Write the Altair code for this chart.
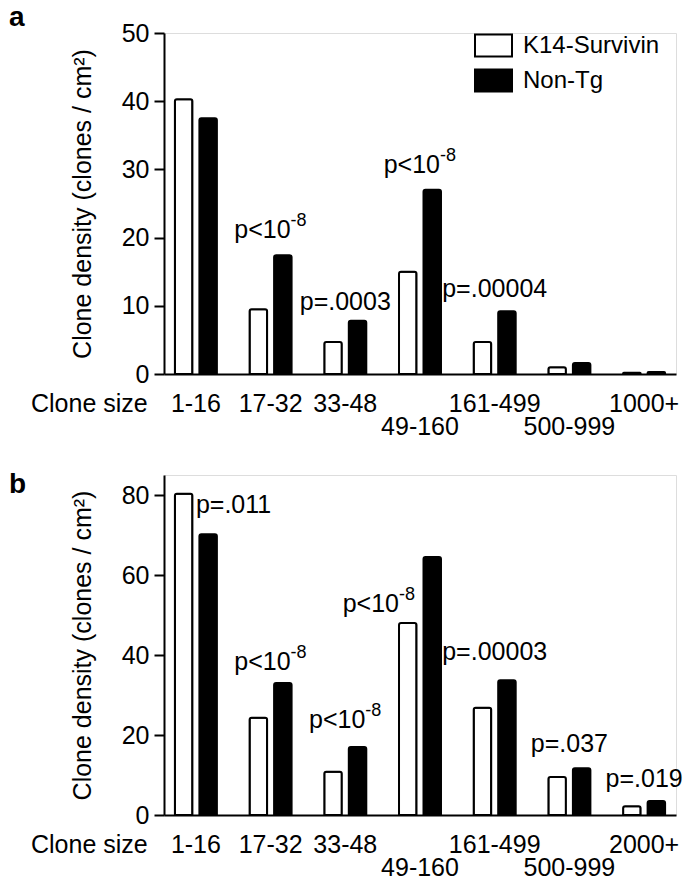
import altair as alt
import pandas as pd

FONT = "Liberation Sans"
SERIES = ["K14-Survivin", "Non-Tg"]
Y_TITLE = "Clone density (clones / cm²)"

# ---- panel a data ----
cats_a = ["1-16", "17-32", "33-48", "49-160", "161-499", "500-999", "1000+"]
k14_a = [40.3, 9.5, 4.7, 15.0, 4.7, 1.0, 0.2]
nontg_a = [37.5, 17.4, 7.8, 27.0, 9.2, 1.6, 0.3]
lower_row_a = ["49-160", "500-999"]
ticks_a = [0, 10, 20, 30, 40, 50]
ymax_a = 50
ann_cat_a = ["17-32", "33-48", "49-160", "161-499"]
ann_text_a = ["p<10", "p=.0003", "p<10", "p=.00004"]
ann_sup_a = ["-8", "", "-8", ""]
ann_y_a = [20.0, 9.4, 29.5, 11.3]

# ---- panel b data ----
cats_b = ["1-16", "17-32", "33-48", "49-160", "161-499", "500-999", "2000+"]
k14_b = [80.3, 24.3, 10.8, 48.0, 26.8, 9.5, 2.2]
nontg_b = [70.2, 33.0, 17.0, 64.5, 33.7, 11.7, 3.5]
lower_row_b = ["49-160", "500-999"]
ticks_b = [0, 20, 40, 60, 80]
ymax_b = 85
ann_cat_b = ["1-16", "17-32", "33-48", "49-160", "161-499", "500-999", "2000+"]
ann_text_b = ["p=.011", "p<10", "p<10", "p<10", "p=.00003", "p=.037", "p=.019"]
ann_sup_b = ["", "-8", "-8", "-8", "", "", ""]
ann_y_b = [75.5, 36.2, 21.7, 50.7, 38.7, 15.7, 7.0]


def panel(letter, cats, k14, nontg, lower_row, ticks, ymax, a_cat, a_text, a_sup, a_y,
          H, show_legend, left_anchor=(), right_anchor=()):
    n = len(cats)
    bars_df = pd.DataFrame({
        "category": cats * 2,
        "series": [SERIES[0]] * n + [SERIES[1]] * n,
        "value": k14 + nontg,
    })
    xenc = alt.X("category:N", sort=cats,
                 scale=alt.Scale(paddingInner=0.438, paddingOuter=0.146),
                 axis=alt.Axis(title=None, labels=False, ticks=False,
                               domainColor="black", domainWidth=2, grid=False))
    yenc = alt.Y("value:Q", scale=alt.Scale(domain=[0, ymax], nice=False),
                 axis=alt.Axis(values=ticks, title=Y_TITLE, titleFont=FONT,
                               titleFontSize=25, titleFontWeight="normal",
                               titleColor="black", titlePadding=26,
                               labelFont=FONT, labelFontSize=25, labelColor="black",
                               labelPadding=5, tickColor="black", tickWidth=2,
                               tickSize=10, domainColor="black", domainWidth=2,
                               grid=False))
    if show_legend:
        legend = alt.Legend(title=None, orient="none", legendX=310, legendY=-7,
                            symbolType="M-1,-0.6H1V0.6H-1Z", symbolSize=1369,
                            symbolStrokeColor="black", symbolStrokeWidth=2,
                            symbolOpacity=1,
                            labelFont=FONT, labelFontSize=24, labelColor="black",
                            labelOffset=10, rowPadding=0, padding=0)
    else:
        legend = None
    bars = alt.Chart(bars_df).mark_bar(
        stroke="black", strokeWidth=2, cornerRadiusTopLeft=2, cornerRadiusTopRight=2,
        opacity=1
    ).encode(
        x=xenc,
        xOffset=alt.XOffset("series:N", sort=SERIES, scale=alt.Scale(paddingInner=0.286)),
        y=yenc,
        fill=alt.Fill("series:N", sort=SERIES,
                      scale=alt.Scale(domain=SERIES, range=["white", "black"]),
                      legend=legend),
    )

    xs = alt.X("category:N", sort=cats)
    lab_df = pd.DataFrame({"category": cats,
                           "row": ["lower" if c in lower_row else "upper" for c in cats]})
    upper = alt.Chart(lab_df).transform_filter("datum.row == 'upper'").mark_text(
        font=FONT, fontSize=25, color="black", baseline="middle"
    ).encode(x=xs, y=alt.value(H + 30), text="category:N")
    lower = alt.Chart(lab_df).transform_filter("datum.row == 'lower'").mark_text(
        font=FONT, fontSize=25, color="black", baseline="middle"
    ).encode(x=xs, y=alt.value(H + 53), text="category:N")

    misc_df = pd.DataFrame({"t": ["Clone size"], "l": [letter]})
    clone_size = alt.Chart(misc_df).mark_text(
        font=FONT, fontSize=25, color="black", align="left", baseline="middle"
    ).encode(x=alt.value(-133), y=alt.value(H + 30), text="t:N")
    letter_y = -7 if letter == "a" else 18
    letter_mark = alt.Chart(misc_df).mark_text(
        font=FONT, fontSize=28, fontWeight="bold", color="black", align="left",
        baseline="alphabetic"
    ).encode(x=alt.value(-155), y=alt.value(letter_y), text="l:N")

    ann_df = pd.DataFrame({"category": a_cat, "text": a_text, "sup": a_sup, "value": a_y})
    special = list(left_anchor) + list(right_anchor)

    def tl(filt, align, dx=0, dy=0, size=25, field="text"):
        return alt.Chart(ann_df).transform_filter(filt).mark_text(
            font=FONT, fontSize=size, color="black", align=align, baseline="alphabetic",
            dx=dx, dy=dy
        ).encode(x=xs, y=alt.Y("value:Q"), text=f"{field}:N")

    normal = "indexof(%s, datum.category) < 0" % str(special)
    layers = [
        bars, upper, lower, clone_size, letter_mark,
        tl(normal + " && datum.sup == ''", "center"),
        tl(normal + " && datum.sup != ''", "right", dx=20),
        tl(normal + " && datum.sup != ''", "left", dx=20, dy=-12, size=18, field="sup"),
    ]
    if left_anchor:
        layers.append(tl("indexof(%s, datum.category) >= 0" % str(list(left_anchor)), "left", dx=0))
    if right_anchor:
        ra = "indexof(%s, datum.category) >= 0" % str(list(right_anchor))
        layers.append(tl(ra, "right", dx=-21))
        layers.append(tl(ra, "right", dx=-5, dy=-12, size=18, field="sup"))
    return alt.layer(*layers).properties(width=512, height=H)


pa = panel("a", cats_a, k14_a, nontg_a, lower_row_a, ticks_a, ymax_a,
           ann_cat_a, ann_text_a, ann_sup_a, ann_y_a, 341, True)
pb = panel("b", cats_b, k14_b, nontg_b, lower_row_b, ticks_b, ymax_b,
           ann_cat_b, ann_text_b, ann_sup_b, ann_y_b, 340, False,
           left_anchor=["1-16"], right_anchor=["49-160"])

chart = alt.vconcat(pa, pb, spacing=101, bounds="flush").resolve_scale(
    x="independent", y="independent", fill="independent"
).resolve_legend(fill="independent").properties(
    padding={"top": -5, "left": 0, "right": 0, "bottom": 0}
).configure_view(stroke=None).configure(background="white")

chart.save("out.html", embed_options={"renderer": "svg", "actions": False})
